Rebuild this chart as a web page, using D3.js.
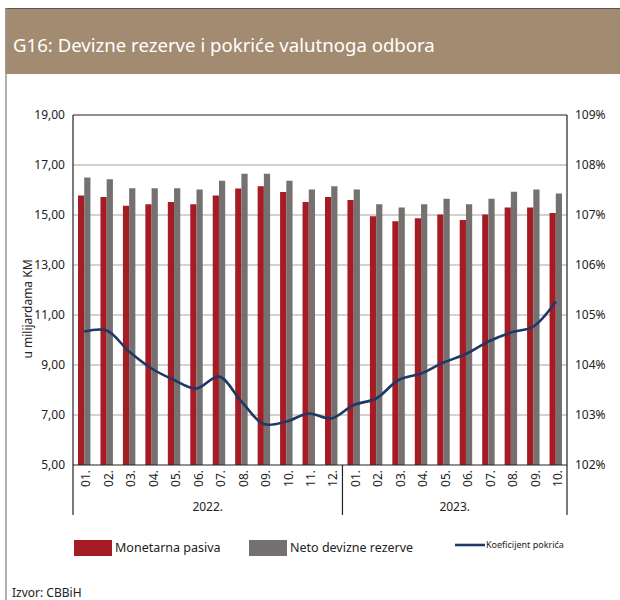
<!DOCTYPE html>
<html>
<head>
<meta charset="utf-8">
<script src="https://cdn.jsdelivr.net/npm/d3@7"></script>
<style>
  body { margin: 0; background: #fff; }
  text { font-family: "Noto Sans", "Open Sans", sans-serif; }
</style>
</head>
<body>
<svg id="chart"></svg>
<script>
// data
const months = ["01.", "02.", "03.", "04.", "05.", "06.", "07.", "08.", "09.", "10.", "11.", "12.",
                "01.", "02.", "03.", "04.", "05.", "06.", "07.", "08.", "09.", "10."];
const years = [{ label: "2022.", from: 0, to: 12 }, { label: "2023.", from: 12, to: 22 }];
const monetarnaPasiva = [15.78, 15.72, 15.37, 15.43, 15.52, 15.43, 15.78, 16.06, 16.15, 15.92, 15.52, 15.72,
                         15.60, 14.95, 14.75, 14.87, 15.02, 14.80, 15.02, 15.30, 15.30, 15.08];
const netoRezerve = [16.50, 16.43, 16.07, 16.07, 16.07, 16.02, 16.37, 16.65, 16.65, 16.37, 16.02, 16.15,
                     16.02, 15.43, 15.30, 15.43, 15.65, 15.43, 15.65, 15.93, 16.02, 15.86];
const koeficijent = [104.67, 104.69, 104.27, 103.93, 103.70, 103.53, 103.77, 103.27, 102.82, 102.87, 103.03, 102.93,
                     103.20, 103.33, 103.70, 103.83, 104.05, 104.22, 104.47, 104.65, 104.77, 105.27];
const leftTicks = [5, 7, 9, 11, 13, 15, 17, 19];
const rightTicks = [102, 103, 104, 105, 106, 107, 108, 109];

const W = 620, H = 600;
const plot = { left: 73, right: 567, top: 115, bottom: 465 };
const red = "#a51c24", grey = "#767171", navy = "#1f3864";

const svg = d3.select("#chart").attr("width", W).attr("height", H);

// header band
svg.append("rect").attr("x", 5).attr("y", 8).attr("width", W - 5).attr("height", 66).attr("fill", "#a38b71");
svg.append("line").attr("x1", 5).attr("x2", W).attr("y1", 8.5).attr("y2", 8.5).attr("stroke", "#555").attr("stroke-width", 1);
svg.append("line").attr("x1", 6).attr("x2", 6).attr("y1", 8).attr("y2", H).attr("stroke", "#999").attr("stroke-width", 1.5);
svg.append("text").attr("x", 13).attr("y", 52).attr("fill", "#fff").attr("font-size", 18.6)
  .text("G16: Devizne rezerve i pokriće valutnoga odbora");

// scales
const x = d3.scaleBand().domain(d3.range(months.length)).range([plot.left, plot.right]);
const x1 = d3.scaleBand().domain(["mp", "ndr"]).range([5, x.bandwidth() - 5]);
const y = d3.scaleLinear().domain([5, 19]).range([plot.bottom, plot.top]);
const y2 = d3.scaleLinear().domain([102, 109]).range([plot.bottom, plot.top]);

const chart = svg.append("g");

// grid
chart.selectAll(".grid").data(leftTicks.slice(1, -1)).join("line")
  .attr("x1", plot.left).attr("x2", plot.right)
  .attr("y1", d => y(d)).attr("y2", d => y(d))
  .attr("stroke", "#a6a6a6").attr("stroke-width", 1.2);

// bars
chart.selectAll(".mp").data(monetarnaPasiva).join("rect")
  .attr("x", (d, i) => x(i) + x1("mp")).attr("width", x1.bandwidth())
  .attr("y", d => y(d)).attr("height", d => y(5) - y(d)).attr("fill", red);
chart.selectAll(".ndr").data(netoRezerve).join("rect")
  .attr("x", (d, i) => x(i) + x1("ndr")).attr("width", x1.bandwidth())
  .attr("y", d => y(d)).attr("height", d => y(5) - y(d)).attr("fill", grey);

// line
const line = d3.line()
  .x((d, i) => x(i) + x.bandwidth() / 2)
  .y(d => y2(d))
  .curve(d3.curveCatmullRom.alpha(0.5));
chart.append("path").datum(koeficijent).attr("d", line)
  .attr("fill", "none").attr("stroke", navy).attr("stroke-width", 2.6);

// frame
const frame = svg.append("g").attr("stroke", "#222").attr("stroke-width", 1.2).attr("fill", "none");
frame.append("line").attr("x1", plot.left).attr("x2", plot.right).attr("y1", plot.top).attr("y2", plot.top);
frame.append("line").attr("x1", plot.left).attr("x2", plot.right).attr("y1", plot.bottom).attr("y2", plot.bottom);
frame.append("line").attr("x1", plot.left).attr("x2", plot.left).attr("y1", plot.top).attr("y2", 515);
frame.append("line").attr("x1", plot.right).attr("x2", plot.right).attr("y1", plot.top).attr("y2", 515);
frame.append("line").attr("x1", x(12)).attr("x2", x(12)).attr("y1", plot.bottom).attr("y2", 515);

// axes labels
svg.append("g").selectAll("text").data(leftTicks).join("text")
  .attr("x", 65).attr("y", d => y(d)).attr("dy", "0.35em")
  .attr("text-anchor", "end").attr("font-size", 12).attr("fill", "#222")
  .text(d => d3.format(".2f")(d).replace(".", ","));
svg.append("g").selectAll("text").data(rightTicks).join("text")
  .attr("x", 575).attr("y", d => y2(d)).attr("dy", "0.35em")
  .attr("font-size", 12).attr("fill", "#222")
  .text(d => d + "%");

svg.append("g").selectAll("text").data(months).join("text")
  .attr("transform", (d, i) => `translate(${x(i) + x.bandwidth() / 2 + 2},470) rotate(-90)`)
  .attr("dy", "0.35em").attr("text-anchor", "end").attr("font-size", 12).attr("fill", "#222")
  .text(d => d);
svg.append("g").selectAll("text").data(years).join("text")
  .attr("x", d => (x(d.from) + (d.to < months.length ? x(d.to) : plot.right)) / 2)
  .attr("y", 507).attr("dy", "0.35em").attr("text-anchor", "middle")
  .attr("font-size", 12).attr("fill", "#222")
  .text(d => d.label);

svg.append("text").attr("transform", "translate(28,309) rotate(-90)")
  .attr("dy", "0.35em").attr("text-anchor", "middle").attr("font-size", 12).attr("fill", "#222")
  .text("u milijardama KM");

// legend
const legend = svg.append("g");
legend.append("rect").attr("x", 74).attr("y", 540).attr("width", 38).attr("height", 16).attr("fill", red);
legend.append("text").attr("x", 115).attr("y", 548).attr("dy", "0.35em").attr("font-size", 12.5).attr("fill", "#222").text("Monetarna pasiva");
legend.append("rect").attr("x", 249).attr("y", 540).attr("width", 38).attr("height", 16).attr("fill", grey);
legend.append("text").attr("x", 290).attr("y", 548).attr("dy", "0.35em").attr("font-size", 12.5).attr("fill", "#222").text("Neto devizne rezerve");
legend.append("line").attr("x1", 455).attr("x2", 485).attr("y1", 545).attr("y2", 545).attr("stroke", navy).attr("stroke-width", 2.6);
legend.append("text").attr("x", 486).attr("y", 545).attr("dy", "0.35em").attr("font-size", 9).attr("fill", "#222").text("Koeficijent pokrića");

svg.append("text").attr("x", 12).attr("y", 593).attr("dy", "0.35em").attr("font-size", 12).attr("fill", "#222").text("Izvor: CBBiH");
</script>
</body>
</html>
